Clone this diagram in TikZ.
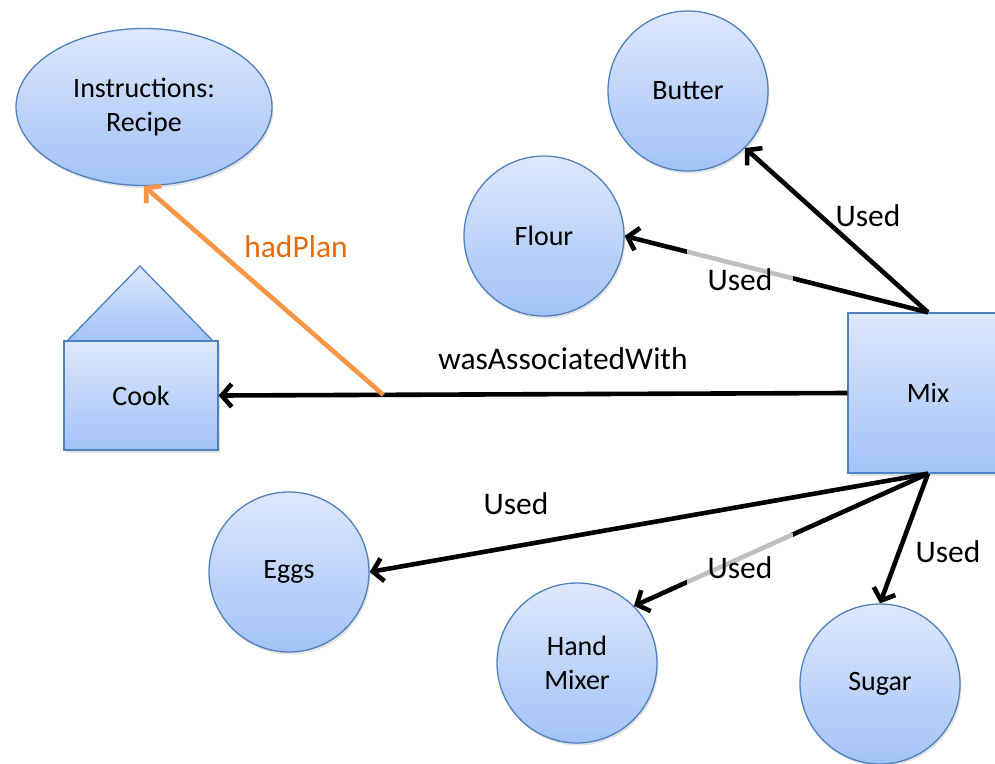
\documentclass[tikz,border=0pt]{standalone}
\usepackage{fontspec}
\setmainfont{Carlito}
\usetikzlibrary{arrows.meta,shadows,shapes.geometric}
\definecolor{topc}{RGB}{222,232,252}
\definecolor{botc}{RGB}{162,194,246}
\definecolor{edgec}{RGB}{79,129,189}
\definecolor{orline}{RGB}{247,150,70}
\definecolor{ortext}{RGB}{228,108,10}
\begin{document}
\begin{tikzpicture}[x=1pt,y=-1pt,
  blob/.style={draw=edgec, line width=1.3pt, top color=topc, bottom color=botc,
    font=\fontsize{28}{34}\selectfont, align=center, inner sep=0pt,
    drop shadow={opacity=0.22, shadow xshift=1.5pt, shadow yshift=-2.5pt}},
  ent/.style={blob, circle, minimum size=160pt},
  act/.style={blob, rectangle},
  rel/.style={line width=4.6pt, -{Straight Barb[length=10pt,width=23pt]}},
  lab/.style={font=\fontsize{31.5}{37}\selectfont},
  boxlab/.style={lab, fill=white, fill opacity=0.75, text opacity=1, inner xsep=21pt, inner ysep=24pt}
]
\useasboundingbox (0,0) rectangle (995,763);
\clip (0,0) rectangle (995,763);

% nodes
\node[blob, ellipse, minimum width=256pt, minimum height=157pt] (recipe) at (144,107) {Instructions:\\Recipe};
\node[ent] (butter) at (688,91) {Butter};
\node[ent] (flour) at (544,236) {Flour};
\node[ent] (eggs) at (289,572) {Eggs};
\node[ent] (hm) at (577,663) {Hand\\Mixer};
\node[ent] (sugar) at (880,684) {Sugar};
\path[blob] (67,341) -- (140,266) -- (213,341) -- cycle;
\node[act, minimum width=154pt, minimum height=109pt] (cook) at (141,395.5) {Cook};
\node[act, minimum width=160pt, minimum height=160pt] (mix) at (928,393) {Mix};

% connectors
\draw[rel] (mix.west) -- coordinate[pos=0.738] (hp) (cook.east);
\draw[rel, orline] (hp) -- (recipe.south);
\draw[rel] (mix.north) -- (butter.south east);
\draw[rel] (mix.north) -- (flour.east);
\draw[rel] (mix.south) -- (eggs.east);
\draw[rel] (mix.south) -- (hm.45);
\draw[rel] (mix.south) -- (sugar.north);

% labels
\node[lab] (lwas) at (563,359) {wasAssociatedWith};
\node[lab, text=ortext] (lplan) at (296,247) {hadPlan};
\node[lab] (lbutter) at (868,216) {Used};
\node[boxlab] (lflour) at (740,280) {Used};
\node[lab] (leggs) at (516,504) {Used};
\node[boxlab] (lhm) at (740,568) {Used};
\node[lab] (lsugar) at (948,552) {Used};
\end{tikzpicture}
\end{document}
